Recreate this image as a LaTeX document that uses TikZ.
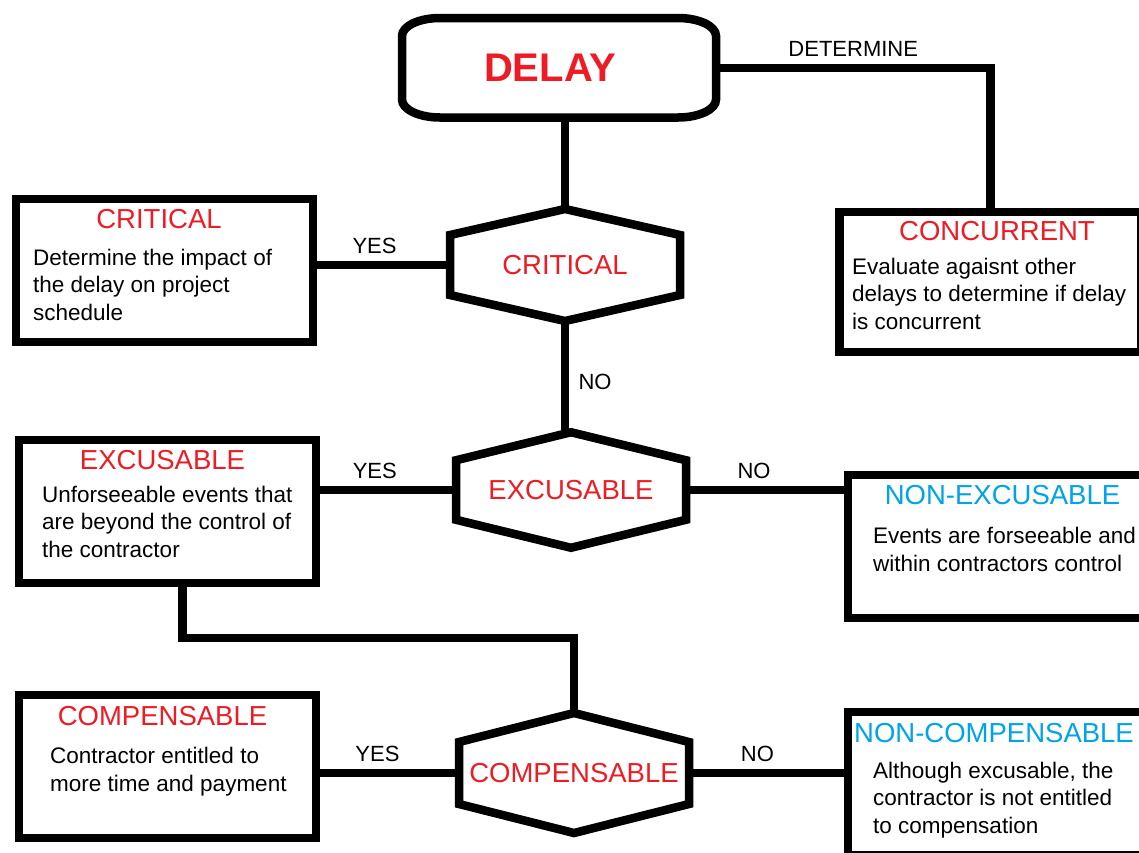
\documentclass[tikz,border=0pt]{standalone}
\usepackage{fontspec}
\setmainfont{Liberation Sans}
\usetikzlibrary{positioning,calc}
\definecolor{dkred}{RGB}{237,28,36}
\definecolor{ltblue}{RGB}{0,162,232}
\tikzset{conn/.style={line width=8.5pt}}
\tikzset{box/.style={draw,line width=8.5pt,minimum width=297pt,minimum height=143pt,inner sep=0pt,outer sep=0pt}}
\tikzset{hexa/.style={inner sep=0pt,outer sep=0pt,minimum width=230pt,text=dkred,font=\fontsize{27.5}{33}\selectfont}}
\tikzset{ttl/.style={anchor=base,inner sep=0pt,font=\fontsize{27.5}{33}\selectfont}}
\tikzset{txt/.style={anchor=base west,align=left,inner sep=0pt,font=\fontsize{22.5}{27.5}\selectfont}}
\tikzset{lbl/.style={font=\fontsize{22}{26}\selectfont}}
\tikzset{lblup/.style={lbl,above,yshift=4pt}}
\newcommand{\hexborder}[2]{\draw[conn] (#1.north) -- ([yshift=-#2pt]#1.north east) -- ([yshift=#2pt]#1.south east) -- (#1.south) -- ([yshift=#2pt]#1.south west) -- ([yshift=-#2pt]#1.north west) -- cycle;}

\begin{document}
\begin{tikzpicture}[x=1pt,y=-1pt]
\useasboundingbox (0,0) rectangle (1139,852);
\clip (0,0) rectangle (1139,852);

% start
\node[inner sep=0pt,outer sep=0pt,minimum width=314pt,minimum height=99.5pt,text=dkred,font=\fontsize{40}{48}\selectfont\bfseries] (delay) at (559,67.75) {DELAY\kern18pt};
\draw[conn] ([xshift=38pt]delay.north west) -- ([xshift=-38pt]delay.north east) arc[start angle=90,end angle=0,x radius=38pt,y radius=18pt] -- ([yshift=18pt]delay.south east) arc[start angle=0,end angle=-90,x radius=38pt,y radius=18pt] -- ([xshift=38pt]delay.south west) arc[start angle=270,end angle=180,x radius=38pt,y radius=18pt] -- ([yshift=-18pt]delay.north west) arc[start angle=180,end angle=90,x radius=38pt,y radius=18pt] -- cycle;

% decisions
\node[hexa,minimum height=112pt] (crithex) at (565,265) {CRITICAL};
\hexborder{crithex}{26}
\node[hexa,minimum height=115.5pt] (exchex) at (571,490) {EXCUSABLE};
\hexborder{exchex}{28}
\node[hexa,minimum height=120pt] (comphex) at (574,773) {COMPENSABLE};
\hexborder{comphex}{29}

% outcome boxes
\node[box] (critbox) at (164.25,270.5) {};
\node[box] (excbox) at (167.5,511.5) {};
\node[box] (compbox) at (167.5,766.5) {};
\node[box,minimum width=302pt,minimum height=140pt] (concbox) at (990.5,282) {};
\node[box] (nonexcbox) at (996.5,546.5) {};
\node[box] (noncompbox) at (996.5,783.5) {};

% texts (body anchored at its last baseline)
\node[ttl,text=dkred] (critT) at (159,228) {CRITICAL};
\node[txt] (critB) at (33,320) {Determine the impact of\\the delay on project\\schedule};
\node[ttl,text=dkred] (excT) at (162.5,469) {EXCUSABLE};
\node[txt] (excB) at (42,557) {Unforseeable events that\\are beyond the control of\\the contractor};
\node[ttl,text=dkred] (compT) at (162.5,725) {COMPENSABLE};
\node[txt] (compB) at (50,791) {Contractor entitled to\\more time and payment};
\node[ttl,text=dkred] (concT) at (997,240) {CONCURRENT};
\node[txt] (concB) at (852,329) {Evaluate agaisnt other\\delays to determine if delay\\is concurrent};
\node[ttl,text=ltblue] (nonexcT) at (1002.5,504) {NON-EXCUSABLE};
\node[txt] (nonexcB) at (873,571) {Events are forseeable and\\within contractors control};
\node[ttl,text=ltblue] (noncompT) at (994,742) {NON-COMPENSABLE};
\node[txt] (noncompB) at (873,833) {Although excusable, the\\contractor is not entitled\\to compensation};

% links
\draw[conn] (crithex.north) -- (crithex.north |- delay.south);
\draw[conn] (delay.east) -| (concbox.north) node[lblup,pos=0.25] (det) {DETERMINE};
\draw[conn] (critbox.east |- crithex.west) -- (crithex.west) node[lblup,pos=0.45] (yes1) {YES};
\draw[conn] (crithex.south) -- (crithex.south |- exchex.north) node[lbl,pos=0.55,right,xshift=6pt] (no1) {NO};
\draw[conn] (excbox.east |- exchex.west) -- (exchex.west) node[lblup,pos=0.42] (yes2) {YES};
\draw[conn] (exchex.east) -- (exchex.east -| nonexcbox.west) node[lblup,pos=0.42] (no2) {NO};
\draw[conn] ([xshift=15pt]excbox.south) -- ++(0,55) -| (comphex.north);
\draw[conn] (compbox.east |- comphex.west) -- (comphex.west) node[lblup,pos=0.43] (yes3) {YES};
\draw[conn] (comphex.east) -- (comphex.east -| noncompbox.west) node[lblup,pos=0.43] (no3) {NO};
\end{tikzpicture}
\end{document}
